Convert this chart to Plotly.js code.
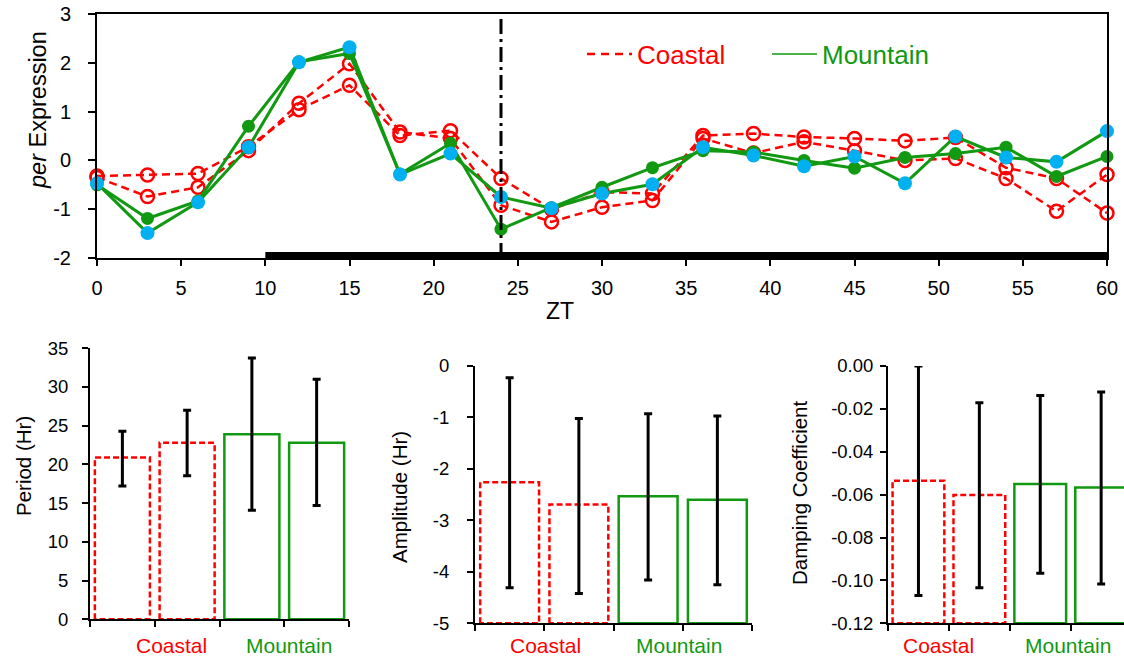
<!DOCTYPE html>
<html><head><meta charset="utf-8">
<script src="https://cdn.plot.ly/plotly-3.0.1.min.js"></script>
<style>html,body{margin:0;padding:0;background:#fff}#chart{width:1124px;height:661px}</style>
</head><body><div id="chart"></div>
<script>
// ---------- data: top panel ----------
const zt = [0,3,6,9,12,15,18,21,24,27,30,33,36,39,42,45,48,51,54,57,60];
const coastalA  = [-0.32,-0.30,-0.27, 0.28, 1.04, 1.54, 0.51, 0.61,-0.37,-1.00,-0.65,-0.68, 0.51, 0.55, 0.48, 0.45, 0.40, 0.47,-0.15,-0.37,-1.08];
const coastalB  = [-0.35,-0.74,-0.55, 0.20, 1.17, 1.98, 0.58, 0.45,-0.92,-1.26,-0.96,-0.82, 0.45, 0.15, 0.38, 0.20, 0.00, 0.04,-0.37,-1.04,-0.29];
const mountainA = [-0.50,-1.19,-0.83, 0.70, 2.02, 2.19,-0.28, 0.35,-1.41,-0.97,-0.55,-0.15, 0.20, 0.17, 0.00,-0.16, 0.06, 0.14, 0.27,-0.33, 0.08];
const mountainB = [-0.47,-1.49,-0.86, 0.27, 2.01, 2.32,-0.29, 0.14,-0.75,-0.98,-0.68,-0.49, 0.27, 0.10,-0.12, 0.08,-0.47, 0.49, 0.06,-0.03, 0.60];
const darkPhase = [10, 60];
const dividerZT = 24;
const topXTicks = [0,5,10,15,20,25,30,35,40,45,50,55,60];
const topYTicks = [-2,-1,0,1,2,3];
const topYText  = ['-2','-1','0','1','2','3'];
const seriesNames = ['Coastal','Mountain'];

// ---------- data: bottom panels ----------
const barIdx = [0,1,2,3];
const barGroup = ['Coastal','Coastal','Mountain','Mountain'];
const periodVals  = [20.9, 22.8, 23.9, 22.8];
const periodUpper = [24.3, 27.0, 33.75, 31.0];
const periodLower = [17.2, 18.55, 14.1, 14.7];
const ampVals  = [-2.26,-2.69,-2.53,-2.60];
const ampUpper = [-0.23,-1.02,-0.93,-0.97];
const ampLower = [-4.31,-4.42,-4.16,-4.25];
const dampVals  = [-0.0535,-0.0602,-0.0550,-0.0567];
const dampUpper = [ 0.0000,-0.0171,-0.0138,-0.0121];
const dampLower = [-0.1070,-0.1034,-0.0967,-0.1017];
const periodTicks = [0,5,10,15,20,25,30,35];
const periodText  = ['0','5','10','15','20','25','30','35'];
const ampTicks = [-5,-4,-3,-2,-1,0];
const ampText  = ['-5','-4','-3','-2','-1','0'];
const dampTicks = [-0.12,-0.10,-0.08,-0.06,-0.04,-0.02,0];
const dampText  = ['-0.12','-0.10','-0.08','-0.06','-0.04','-0.02','0.00'];
const periodTitle = 'Period (Hr)';
const ampTitle = 'Amplitude (Hr)';
const dampTitle = 'Damping Coefficient';

// ---------- styling ----------
const RED = '#ff0000', GREEN = '#119911', CYAN = '#00b0f0';
const FONT = 'Liberation Sans, Arial, sans-serif';
const W = 1124, H = 661;
const px = v => v / W, py = v => 1 - v / H;

const traces = [];
// top panel series
[[coastalA],[coastalB]].forEach(([ys]) => traces.push({
  x: zt, y: ys, xaxis: 'x', yaxis: 'y', type: 'scatter', mode: 'lines+markers', showlegend: false,
  cliponaxis: false,
  line: {color: RED, width: 2.5, dash: '8px,5px'},
  marker: {symbol: 'circle-open', size: 13, color: RED, line: {width: 2.5, color: RED}}
}));
traces.push({x: zt, y: mountainA, xaxis: 'x', yaxis: 'y', type: 'scatter', mode: 'lines+markers', showlegend: false,
  cliponaxis: false, line: {color: GREEN, width: 3}, marker: {size: 13, color: GREEN}});
traces.push({x: zt, y: mountainB, xaxis: 'x', yaxis: 'y', type: 'scatter', mode: 'lines+markers', showlegend: false,
  cliponaxis: false, line: {color: GREEN, width: 3}, marker: {size: 14, color: CYAN}});
// legend entries
traces.push({x: [null], y: [null], xaxis: 'x', yaxis: 'y', type: 'scatter', mode: 'lines',
  name: '<span style="fill:' + RED + '">' + seriesNames[0] + '</span>', line: {color: RED, width: 2.5, dash: '8px,6px'}});
traces.push({x: [null], y: [null], xaxis: 'x', yaxis: 'y', type: 'scatter', mode: 'lines',
  name: '<span style="fill:' + GREEN + '">' + seriesNames[1] + '</span>', line: {color: GREEN, width: 1.5}});

// bottom panels
const BW = 0.85;
function addBars(n, vals, upper, lower, base) {
  const xa = 'x' + n, ya = 'y' + n;
  traces.push({
    type: 'bar', x: barIdx, y: vals.map(v => v - base), base: base, width: BW,
    xaxis: xa, yaxis: ya, showlegend: false, hoverinfo: 'skip',
    marker: {color: 'rgba(0,0,0,0)',
      line: {color: barGroup.map(g => g === 'Coastal' ? 'rgba(0,0,0,0)' : GREEN), width: 2.5}}
  });
  barIdx.forEach(i => {
    if (barGroup[i] !== 'Coastal') return;
    const l = barIdx[i] - BW / 2, r = barIdx[i] + BW / 2;
    traces.push({type: 'scatter', mode: 'lines', xaxis: xa, yaxis: ya, showlegend: false, hoverinfo: 'skip',
      x: [l, l, r, r, l], y: [base, vals[i], vals[i], base, base],
      line: {color: RED, width: 2.5, dash: '6px,3px'}});
  });
  traces.push({type: 'scatter', mode: 'markers', x: barIdx, y: vals, xaxis: xa, yaxis: ya, showlegend: false,
    cliponaxis: false, marker: {size: 1, opacity: 0},
    error_y: {type: 'data', symmetric: false, array: vals.map((v, i) => upper[i] - v),
      arrayminus: vals.map((v, i) => v - lower[i]), color: '#000', thickness: 3, width: 4}});
}
addBars(2, periodVals, periodUpper, periodLower, periodTicks[0]);
addBars(3, ampVals, ampUpper, ampLower, ampTicks[0]);
addBars(4, dampVals, dampUpper, dampLower, dampTicks[0]);

const tickFontTop = {family: FONT, size: 20, color: '#000'};
const tickFontBot = {family: FONT, size: 18.5, color: '#000'};
const baseAxis = {showgrid: false, zeroline: false, showline: true, linecolor: '#000', linewidth: 2,
  ticks: 'outside', tickcolor: '#000', tickwidth: 2, fixedrange: true};

function botX(n, dom, range) {
  return Object.assign({}, baseAxis, {domain: dom, anchor: 'y' + n, range: range,
    tickmode: 'array', tickvals: [-0.5, 0.5, 1.5, 2.5, 3.5], showticklabels: false, ticklen: 6});
}
function botY(n, dom, range, tv, tt, standoff) {
  return Object.assign({}, baseAxis, {domain: dom, anchor: 'x' + n, range: range,
    tickmode: 'array', tickvals: tv, ticktext: tt, ticklen: 6, tickfont: tickFontBot, ticklabelstandoff: standoff});
}

const layout = {
  width: W, height: H, margin: {l: 0, r: 0, t: 0, b: 0},
  paper_bgcolor: '#fff', plot_bgcolor: 'rgba(0,0,0,0)',
  font: {family: FONT, color: '#000'},
  showlegend: true,
  legend: {orientation: 'h', x: px(582), y: py(54), xanchor: 'left', yanchor: 'middle',
    font: {family: FONT, size: 26}, bgcolor: 'rgba(0,0,0,0)', itemwidth: 45, entrywidth: 125, itemclick: false},
  xaxis: Object.assign({}, baseAxis, {domain: [px(97), px(1107)], anchor: 'y', range: [0, 60],
    tickmode: 'array', tickvals: topXTicks, ticklen: 6, tickfont: tickFontTop, mirror: true, ticklabelstandoff: 5}),
  yaxis: Object.assign({}, baseAxis, {domain: [py(258), py(14)], anchor: 'x', range: [-2, 3],
    tickmode: 'array', tickvals: topYTicks, ticktext: topYText, ticklen: 7, tickfont: tickFontTop, mirror: true,
    ticklabelstandoff: 13}),
  xaxis2: botX(2, [px(90), px(349)], [-0.5, 3.5]),
  yaxis2: botY(2, [py(619.3), py(348.3)], [0, 35], periodTicks, periodText, 10),
  xaxis3: botX(3, [px(475), px(752)], [-0.5, 3.5]),
  yaxis3: botY(3, [py(623.3), py(366)], [-5, 0], ampTicks, ampText, 14),
  xaxis4: botX(4, [px(888), 1], [-0.5, (W - 888) / 60.9 - 0.5]),
  yaxis4: botY(4, [py(623.3), py(366)], [-0.12, 0], dampTicks, dampText, 3),
  shapes: [
    {type: 'line', xref: 'x', yref: 'y', x0: darkPhase[0], x1: darkPhase[1], ysizemode: 'pixel', yanchor: -2,
      y0: 2, y1: 2, line: {color: '#000', width: 8}, layer: 'above'},
    {type: 'line', xref: 'x', yref: 'y', x0: dividerZT, x1: dividerZT, y0: -2, y1: 3,
      line: {color: '#000', width: 3, dash: '15px,5px,3px,5px'}, layer: 'above'}
  ],
  annotations: [
    {xref: 'paper', yref: 'paper', x: px(38), y: py(110), text: '<i>per</i> Expression', textangle: -90,
      showarrow: false, xanchor: 'center', yanchor: 'middle', font: {family: FONT, size: 23.5, color: '#000'}},
    {xref: 'paper', yref: 'paper', x: px(560), y: py(311), text: 'ZT', showarrow: false,
      xanchor: 'center', yanchor: 'middle', font: {family: FONT, size: 23, color: '#000'}},
    {xref: 'paper', yref: 'paper', x: px(23), y: py(466), text: periodTitle, textangle: -90, showarrow: false,
      xanchor: 'center', yanchor: 'middle', font: {family: FONT, size: 20.5, color: '#000'}},
    {xref: 'paper', yref: 'paper', x: px(399), y: py(497), text: ampTitle, textangle: -90, showarrow: false,
      xanchor: 'center', yanchor: 'middle', font: {family: FONT, size: 20.5, color: '#000'}},
    {xref: 'paper', yref: 'paper', x: px(799), y: py(493), text: dampTitle, textangle: -90, showarrow: false,
      xanchor: 'center', yanchor: 'middle', font: {family: FONT, size: 20.5, color: '#000'}}
  ]
};
// group labels under bar panels
[[171, 289], [545, 679], [938, 1068]].forEach(pair => {
  pair.forEach((xp, k) => layout.annotations.push({xref: 'paper', yref: 'paper', x: px(xp), y: py(645),
    xanchor: 'center', yanchor: 'middle', borderpad: 0,
    text: seriesNames[k], showarrow: false, font: {family: FONT, size: 21, color: k === 0 ? RED : GREEN}}));
});

Plotly.newPlot('chart', traces, layout, {displayModeBar: false, staticPlot: true});
</script></body></html>
